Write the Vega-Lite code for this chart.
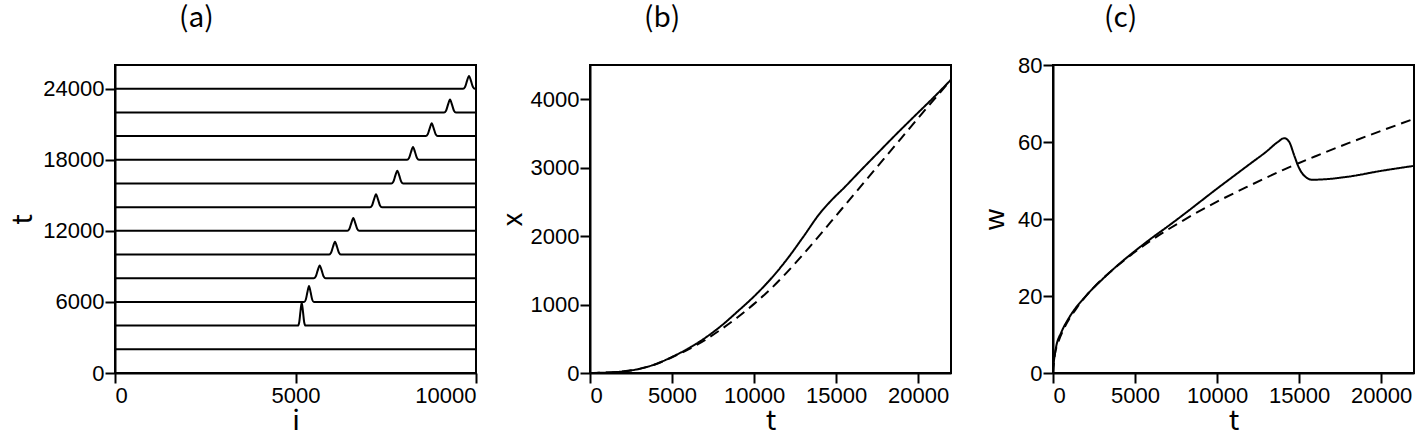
{
  "$schema": "https://vega.github.io/schema/vega-lite/v6.json",
  "background": "white",
  "padding": {"left": 8, "top": 4, "right": 0, "bottom": 0},
  "bounds": "flush",
  "spacing": 0,
  "datasets": {
    "traces": [
      {"k": 0, "i": 0, "t": 0}, {"k": 0, "i": 10000, "t": 0},
      {"k": 2000, "i": 0, "t": 2000}, {"k": 2000, "i": 10000, "t": 2000},
      {"k": 4000, "i": 0, "t": 4000}, {"k": 4000, "i": 5067, "t": 4000}, {"k": 4000, "i": 5102, "t": 4263}, {"k": 4000, "i": 5137, "t": 5184}, {"k": 4000, "i": 5172, "t": 5950}, {"k": 4000, "i": 5207, "t": 5184}, {"k": 4000, "i": 5242, "t": 4263}, {"k": 4000, "i": 5277, "t": 4000}, {"k": 4000, "i": 10000, "t": 4000},
      {"k": 6000, "i": 0, "t": 6000}, {"k": 6000, "i": 5239, "t": 6000}, {"k": 6000, "i": 5284, "t": 6182}, {"k": 6000, "i": 5329, "t": 6819}, {"k": 6000, "i": 5374, "t": 7350}, {"k": 6000, "i": 5419, "t": 6819}, {"k": 6000, "i": 5464, "t": 6182}, {"k": 6000, "i": 5509, "t": 6000}, {"k": 6000, "i": 10000, "t": 6000},
      {"k": 8000, "i": 0, "t": 8000}, {"k": 8000, "i": 5505, "t": 8000}, {"k": 8000, "i": 5560, "t": 8146}, {"k": 8000, "i": 5615, "t": 8656}, {"k": 8000, "i": 5670, "t": 9080}, {"k": 8000, "i": 5725, "t": 8656}, {"k": 8000, "i": 5780, "t": 8146}, {"k": 8000, "i": 5835, "t": 8000}, {"k": 8000, "i": 10000, "t": 8000},
      {"k": 10000, "i": 0, "t": 10000}, {"k": 10000, "i": 5929, "t": 10000}, {"k": 10000, "i": 5984, "t": 10146}, {"k": 10000, "i": 6039, "t": 10656}, {"k": 10000, "i": 6094, "t": 11080}, {"k": 10000, "i": 6149, "t": 10656}, {"k": 10000, "i": 6204, "t": 10146}, {"k": 10000, "i": 6259, "t": 10000}, {"k": 10000, "i": 10000, "t": 10000},
      {"k": 12000, "i": 0, "t": 12000}, {"k": 12000, "i": 6436, "t": 12000}, {"k": 12000, "i": 6491, "t": 12146}, {"k": 12000, "i": 6546, "t": 12656}, {"k": 12000, "i": 6601, "t": 13080}, {"k": 12000, "i": 6656, "t": 12656}, {"k": 12000, "i": 6711, "t": 12146}, {"k": 12000, "i": 6766, "t": 12000}, {"k": 12000, "i": 10000, "t": 12000},
      {"k": 14000, "i": 0, "t": 14000}, {"k": 14000, "i": 7065, "t": 14000}, {"k": 14000, "i": 7120, "t": 14146}, {"k": 14000, "i": 7175, "t": 14656}, {"k": 14000, "i": 7230, "t": 15080}, {"k": 14000, "i": 7285, "t": 14656}, {"k": 14000, "i": 7340, "t": 14146}, {"k": 14000, "i": 7395, "t": 14000}, {"k": 14000, "i": 10000, "t": 14000},
      {"k": 16000, "i": 0, "t": 16000}, {"k": 16000, "i": 7655, "t": 16000}, {"k": 16000, "i": 7710, "t": 16146}, {"k": 16000, "i": 7765, "t": 16656}, {"k": 16000, "i": 7820, "t": 17080}, {"k": 16000, "i": 7875, "t": 16656}, {"k": 16000, "i": 7930, "t": 16146}, {"k": 16000, "i": 7985, "t": 16000}, {"k": 16000, "i": 10000, "t": 16000},
      {"k": 18000, "i": 0, "t": 18000}, {"k": 18000, "i": 8090, "t": 18000}, {"k": 18000, "i": 8145, "t": 18146}, {"k": 18000, "i": 8200, "t": 18656}, {"k": 18000, "i": 8255, "t": 19080}, {"k": 18000, "i": 8310, "t": 18656}, {"k": 18000, "i": 8365, "t": 18146}, {"k": 18000, "i": 8420, "t": 18000}, {"k": 18000, "i": 10000, "t": 18000},
      {"k": 20000, "i": 0, "t": 20000}, {"k": 20000, "i": 8608, "t": 20000}, {"k": 20000, "i": 8663, "t": 20146}, {"k": 20000, "i": 8718, "t": 20656}, {"k": 20000, "i": 8773, "t": 21080}, {"k": 20000, "i": 8828, "t": 20656}, {"k": 20000, "i": 8883, "t": 20146}, {"k": 20000, "i": 8938, "t": 20000}, {"k": 20000, "i": 10000, "t": 20000},
      {"k": 22000, "i": 0, "t": 22000}, {"k": 22000, "i": 9115, "t": 22000}, {"k": 22000, "i": 9170, "t": 22146}, {"k": 22000, "i": 9225, "t": 22656}, {"k": 22000, "i": 9280, "t": 23080}, {"k": 22000, "i": 9335, "t": 22656}, {"k": 22000, "i": 9390, "t": 22146}, {"k": 22000, "i": 9445, "t": 22000}, {"k": 22000, "i": 10000, "t": 22000},
      {"k": 24000, "i": 0, "t": 24000}, {"k": 24000, "i": 9641, "t": 24000}, {"k": 24000, "i": 9696, "t": 24146}, {"k": 24000, "i": 9751, "t": 24656}, {"k": 24000, "i": 9806, "t": 25080}, {"k": 24000, "i": 9861, "t": 24656}, {"k": 24000, "i": 9916, "t": 24146}, {"k": 24000, "i": 9971, "t": 24000}, {"k": 24000, "i": 10000, "t": 24000}
    ],
    "position": [
      {"s": "sim", "t": 0, "x": 0}, {"s": "sim", "t": 1000, "x": 6}, {"s": "sim", "t": 2000, "x": 22}, {"s": "sim", "t": 3000, "x": 60}, {"s": "sim", "t": 4000, "x": 130}, {"s": "sim", "t": 5000, "x": 235}, {"s": "sim", "t": 6000, "x": 360}, {"s": "sim", "t": 7000, "x": 510}, {"s": "sim", "t": 8000, "x": 690}, {"s": "sim", "t": 9000, "x": 900}, {"s": "sim", "t": 10000, "x": 1120}, {"s": "sim", "t": 11000, "x": 1370}, {"s": "sim", "t": 12000, "x": 1660}, {"s": "sim", "t": 13000, "x": 1990}, {"s": "sim", "t": 14000, "x": 2330}, {"s": "sim", "t": 14700, "x": 2520}, {"s": "sim", "t": 15500, "x": 2710}, {"s": "sim", "t": 16500, "x": 2960}, {"s": "sim", "t": 17500, "x": 3205}, {"s": "sim", "t": 18500, "x": 3450}, {"s": "sim", "t": 19700, "x": 3735}, {"s": "sim", "t": 21000, "x": 4040}, {"s": "sim", "t": 22000, "x": 4285},
      {"s": "theory", "t": 0, "x": 0}, {"s": "theory", "t": 1000, "x": 6}, {"s": "theory", "t": 2000, "x": 22}, {"s": "theory", "t": 3000, "x": 60}, {"s": "theory", "t": 4000, "x": 128}, {"s": "theory", "t": 5000, "x": 230}, {"s": "theory", "t": 6000, "x": 345}, {"s": "theory", "t": 7000, "x": 480}, {"s": "theory", "t": 8000, "x": 640}, {"s": "theory", "t": 9000, "x": 815}, {"s": "theory", "t": 10000, "x": 1010}, {"s": "theory", "t": 11000, "x": 1225}, {"s": "theory", "t": 12000, "x": 1470}, {"s": "theory", "t": 13000, "x": 1735}, {"s": "theory", "t": 14000, "x": 2015}, {"s": "theory", "t": 15000, "x": 2300}, {"s": "theory", "t": 16000, "x": 2585}, {"s": "theory", "t": 17000, "x": 2870}, {"s": "theory", "t": 18000, "x": 3155}, {"s": "theory", "t": 19000, "x": 3440}, {"s": "theory", "t": 20000, "x": 3725}, {"s": "theory", "t": 21000, "x": 4005}, {"s": "theory", "t": 22000, "x": 4285}
    ],
    "width": [
      {"s": "sim", "t": 0, "w": 1.5}, {"s": "sim", "t": 200, "w": 7}, {"s": "sim", "t": 500, "w": 10.5}, {"s": "sim", "t": 1000, "w": 14.5}, {"s": "sim", "t": 2000, "w": 20}, {"s": "sim", "t": 3000, "w": 24.3}, {"s": "sim", "t": 4000, "w": 28.2}, {"s": "sim", "t": 5000, "w": 31.7}, {"s": "sim", "t": 6000, "w": 35}, {"s": "sim", "t": 7000, "w": 38.1}, {"s": "sim", "t": 8000, "w": 41.3}, {"s": "sim", "t": 9000, "w": 44.6}, {"s": "sim", "t": 10000, "w": 47.9}, {"s": "sim", "t": 11000, "w": 51.1}, {"s": "sim", "t": 12000, "w": 54.3}, {"s": "sim", "t": 13000, "w": 57.5}, {"s": "sim", "t": 13700, "w": 60}, {"s": "sim", "t": 14100, "w": 61}, {"s": "sim", "t": 14400, "w": 60}, {"s": "sim", "t": 14700, "w": 56.5}, {"s": "sim", "t": 15000, "w": 53.2}, {"s": "sim", "t": 15400, "w": 50.9}, {"s": "sim", "t": 15800, "w": 50.2}, {"s": "sim", "t": 16500, "w": 50.3}, {"s": "sim", "t": 18000, "w": 51}, {"s": "sim", "t": 20000, "w": 52.5}, {"s": "sim", "t": 22000, "w": 53.8},
      {"s": "theory", "t": 0, "w": 0}, {"s": "theory", "t": 100, "w": 4.45}, {"s": "theory", "t": 300, "w": 7.7}, {"s": "theory", "t": 700, "w": 11.8}, {"s": "theory", "t": 1500, "w": 17.2}, {"s": "theory", "t": 2500, "w": 22.3}, {"s": "theory", "t": 4000, "w": 28.1}, {"s": "theory", "t": 6000, "w": 34.5}, {"s": "theory", "t": 8000, "w": 39.8}, {"s": "theory", "t": 10000, "w": 44.5}, {"s": "theory", "t": 12000, "w": 48.7}, {"s": "theory", "t": 14000, "w": 52.7}, {"s": "theory", "t": 16000, "w": 56.3}, {"s": "theory", "t": 18000, "w": 59.7}, {"s": "theory", "t": 20000, "w": 62.9}, {"s": "theory", "t": 22000, "w": 66}
    ]
  },
  "hconcat": [
    {
      "width": 361, "height": 308,
      "title": {"text": "(a)", "anchor": "start", "frame": "group", "dx": 64, "offset": 32},
      "data": {"name": "traces"},
      "mark": {"type": "line", "interpolate": "monotone", "color": "black", "strokeWidth": 2},
      "encoding": {
        "x": {"field": "i", "type": "quantitative", "scale": {"domain": [0, 10000], "nice": false}, "axis": {"values": [0, 5000, 10000], "title": "i"}},
        "y": {"field": "t", "type": "quantitative", "scale": {"domain": [0, 26000], "nice": false}, "axis": {"values": [0, 6000, 12000, 18000, 24000], "title": "t", "titlePadding": 5}},
        "detail": {"field": "k", "type": "nominal"}
      }
    },
    {"width": 114, "height": 308, "view": {"stroke": null}, "data": {"values": []}, "mark": "point"},
    {
      "width": 361, "height": 308,
      "title": {"text": "(b)", "anchor": "start", "frame": "group", "dx": 54, "offset": 32},
      "data": {"name": "position"},
      "mark": {"type": "line", "interpolate": "monotone", "color": "black", "strokeWidth": 2},
      "encoding": {
        "x": {"field": "t", "type": "quantitative", "scale": {"domain": [0, 22000], "nice": false}, "axis": {"values": [0, 5000, 10000, 15000, 20000], "title": "t"}},
        "y": {"field": "x", "type": "quantitative", "scale": {"domain": [0, 4500], "nice": false}, "axis": {"values": [0, 1000, 2000, 3000, 4000], "title": "x", "titlePadding": 3}},
        "strokeDash": {"field": "s", "type": "nominal", "scale": {"domain": ["sim", "theory"], "range": [[1, 0], [10, 6]]}, "legend": null}
      }
    },
    {"width": 102, "height": 308, "view": {"stroke": null}, "data": {"values": []}, "mark": "point"},
    {
      "width": 361, "height": 308,
      "title": {"text": "(c)", "anchor": "start", "frame": "group", "dx": 51, "offset": 21},
      "data": {"name": "width"},
      "mark": {"type": "line", "interpolate": "monotone", "color": "black", "strokeWidth": 2},
      "encoding": {
        "x": {"field": "t", "type": "quantitative", "scale": {"domain": [0, 22000], "nice": false}, "axis": {"values": [0, 5000, 10000, 15000, 20000], "title": "t"}},
        "y": {"field": "w", "type": "quantitative", "scale": {"domain": [0, 80], "nice": false}, "axis": {"values": [0, 20, 40, 60, 80], "title": "w", "titlePadding": 8}},
        "strokeDash": {"field": "s", "type": "nominal", "scale": {"domain": ["sim", "theory"], "range": [[1, 0], [10, 6]]}, "legend": null}
      }
    }
  ],
  "config": {
    "view": {"stroke": "black", "strokeWidth": 2},
    "title": {"font": "Noto Sans CJK JP", "fontSize": 28, "fontWeight": "normal", "color": "black"},
    "axis": {
      "grid": false, "format": "d",
      "domainColor": "black", "domainWidth": 2,
      "tickColor": "black", "tickWidth": 2, "tickSize": 10,
      "labelFont": "Liberation Sans", "labelFontSize": 22, "labelColor": "black", "labelPadding": 2,
      "titleFont": "Noto Sans CJK JP", "titleFontSize": 28, "titleFontWeight": "normal", "titleColor": "black"
    },
    "axisY": {"labelPadding": 1},
    "axisX": {"titlePadding": 1}
  }
}
